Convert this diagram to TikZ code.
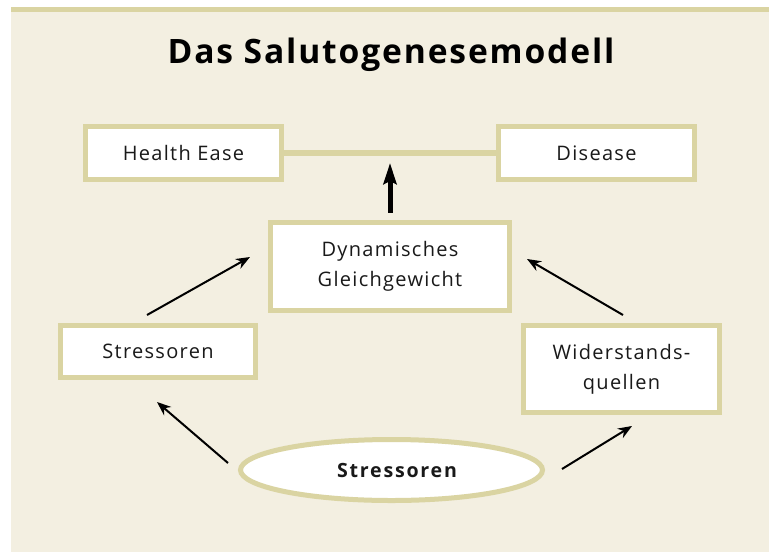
\documentclass[tikz,border=0pt]{standalone}
\usepackage{fontspec}
\setmainfont{Open Sans}
\usepackage{tikz}
\usetikzlibrary{arrows.meta, shapes.geometric, positioning}

\definecolor{cream}{RGB}{243,239,225}
\definecolor{sand}{RGB}{218,212,162}

\tikzset{
    box/.style={draw=sand, line width=5pt, fill=white, inner sep=0pt, align=center,
        text=black!90, font=\fontsize{20}{30}\selectfont\addfontfeature{LetterSpace=6.5}},
    arr/.style={line width=2pt, -{Stealth[length=14pt, width=11pt]}},
    uparr/.style={line width=5pt, -{Stealth[length=21pt, width=13pt, inset=3pt]}},
}

\begin{document}
\begin{tikzpicture}[x=1pt, y=-1pt]
        \useasboundingbox (0,0) rectangle (773,552);
        \fill[cream] (11,12) rectangle (769,552);
        \fill[sand] (11,7) rectangle (769,12);

        \node[font=\bfseries\fontsize{33.6}{40}\selectfont\addfontfeature{LetterSpace=5.5}] (title) at (391,55) {Das Salutogenesemodell};

        \node[box, minimum width=196pt, minimum height=53pt] (health) at (183.5,153) {Health Ease};
        \node[box, minimum width=196pt, minimum height=53pt] (disease) at (596.5,153) {Disease};
        \draw[sand, line width=5.5pt] (health) -- (disease);

        \node[box, minimum width=239pt, minimum height=88pt] (dyn) at (390,266.5) {Dynamisches\\Gleichgewicht};
        \node[box, minimum width=195pt, minimum height=52pt] (stress) at (158,351.5) {Stressoren};
        \node[box, minimum width=196pt, minimum height=87pt] (wider) at (621.5,369) {Widerstands-\\quellen};
        \node[box, ellipse, minimum width=302pt, minimum height=61pt,
            font=\bfseries\fontsize{19.6}{30}\selectfont\addfontfeature{LetterSpace=9}] (stressell) at (391.5,470) {\hspace*{11pt}Stressoren};

        % Pfeile
        \coordinate (tip) at (390,163);
        \draw[uparr, shorten <=7.5pt] (dyn) -- (tip);

        \coordinate (a1s) at (147,315);
        \coordinate (a1e) at (250,257);
        \coordinate (a2s) at (623,315);
        \coordinate (a2e) at (527,259);
        \coordinate (a3s) at (228,463);
        \coordinate (a3e) at (157,402);
        \coordinate (a4s) at (562,469);
        \coordinate (a4e) at (632,426);
        \draw[arr] (a1s) -- (a1e);
        \draw[arr] (a2s) -- (a2e);
        \draw[arr] (a3s) -- (a3e);
        \draw[arr] (a4s) -- (a4e);
    \end{tikzpicture}
\end{document}
